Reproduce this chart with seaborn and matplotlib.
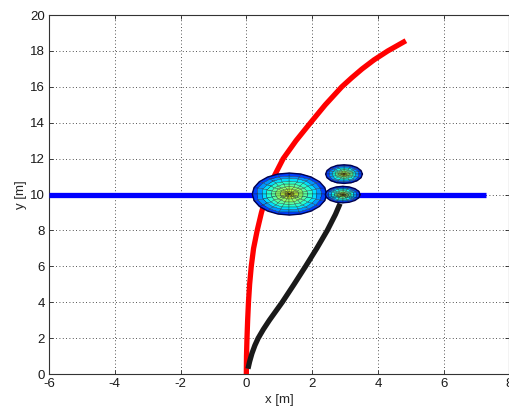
import numpy as np
import pandas as pd
import matplotlib
matplotlib.use("Agg")
import matplotlib.pyplot as plt
import seaborn as sns

# ---- data ----
red_y = [0.0, 1.0, 2.0, 3.0, 4.0, 5.0, 6.0, 7.0, 8.0, 9.0, 10.0, 11.0, 12.0,
         13.0, 14.0, 15.0, 16.0, 16.5, 17.0, 17.5, 18.0, 18.57]
red_x = [0.0, 0.005, 0.02, 0.04, 0.065, 0.10, 0.15, 0.22, 0.33, 0.46, 0.62,
         0.84, 1.12, 1.51, 1.95, 2.40, 2.90, 3.20, 3.52, 3.88, 4.30, 4.85]

black_y = [0.3, 0.7, 1.15, 1.6, 2.0, 2.5, 3.0, 4.0, 5.0, 6.0, 7.0, 8.0, 8.9, 9.5]
black_x = [0.05, 0.10, 0.17, 0.26, 0.36, 0.52, 0.70, 1.09, 1.45, 1.80, 2.14,
           2.46, 2.71, 2.85]

blue_x = [-6.0, 7.29]
blue_y = [10.0, 10.0]

# ellipsoidal "discs": centre x, centre y, radius x, radius y
disc_cx = [1.31, 2.93, 2.97]
disc_cy = [10.03, 10.0, 11.14]
disc_rx = [1.13, 0.53, 0.56]
disc_ry = [1.17, 0.46, 0.52]
big_ring_levels = [0.64, 0.58, 0.52, 0.46, 0.40, 0.34, 0.27, 0.19]
small_ring_levels = [0.64, 0.55, 0.46, 0.37, 0.28, 0.19]

x_ticks = [-6, -4, -2, 0, 2, 4, 6, 8]
y_ticks = [0, 2, 4, 6, 8, 10, 12, 14, 16, 18, 20]

# ---- style ----
sns.set_theme(style="white")
plt.rcParams['font.family'] = ['Liberation Sans', 'DejaVu Sans']

fig = plt.figure(figsize=(5.10, 4.18), dpi=100)
ax = fig.add_axes([0.096, 0.105, 0.903, 0.859])

# lines
sns.lineplot(x=red_x, y=red_y, sort=False, estimator=None, color=(1, 0, 0),
             linewidth=3.8, ax=ax, zorder=3)
sns.lineplot(x=black_x, y=black_y, sort=False, estimator=None, color='k',
             linewidth=3.8, ax=ax, zorder=3)
sns.lineplot(x=blue_x, y=blue_y, sort=False, estimator=None, color=(0, 0, 1),
             linewidth=3.8, ax=ax, zorder=3)
for ln in ax.lines:
    ln.set_solid_capstyle('butt')
    ln.set_solid_joinstyle('round')

# discs
for i, (cx, cy, rx, ry) in enumerate(zip(disc_cx, disc_cy, disc_rx, disc_ry)):
    levels = big_ring_levels if i == 0 else small_ring_levels
    n_seg = 20 if i == 0 else 16
    rr = np.linspace(0, 1, len(levels) + 1)
    tt = np.linspace(0, 2 * np.pi, n_seg + 1)
    R, T = np.meshgrid(rr, tt)
    C = np.tile(np.array(levels), (n_seg, 1))
    X = cx + rx * R * np.cos(T)
    Y = cy + ry * R * np.sin(T)
    ax.pcolormesh(X, Y, C, cmap='jet', vmin=0, vmax=1, shading='flat',
                  edgecolors='#1e1e1e', linewidth=0.2, zorder=4 + i,
                  antialiased=True)
    ax.plot(X[:, -1], Y[:, -1], color='#000050', linewidth=1.0, zorder=4 + i)

ax.set_xlim(-6, 8)
ax.set_ylim(0, 20)
ax.set_xticks(x_ticks)
ax.set_yticks(y_ticks)
ax.set_xticklabels([str(v) for v in x_ticks])
ax.set_yticklabels([str(v) for v in y_ticks])
ax.grid(True, color='k', linestyle=(0, (1, 3)), linewidth=0.6)
ax.set_axisbelow(True)
for s in ax.spines.values():
    s.set_color('#333333')
    s.set_linewidth(0.8)
    s.set_visible(True)
ax.tick_params(direction='in', length=3, width=0.6, labelsize=9.5, pad=3,
               colors='#222222', labelcolor='k', top=True, right=True,
               bottom=True, left=True, labeltop=False, labelright=False)
ax.set_xlabel('x [m]', fontsize=9.5, labelpad=3)
ax.set_ylabel('y [m]', fontsize=9.5, labelpad=2)

fig.savefig('out.png', dpi=100)
